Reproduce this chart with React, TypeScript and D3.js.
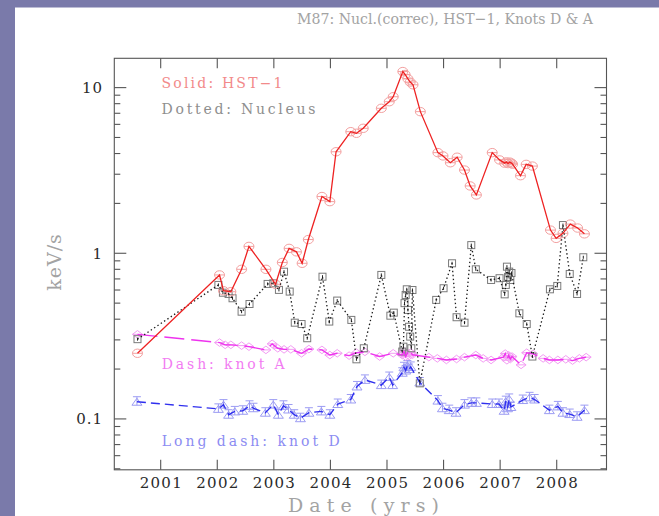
import React from "react";
import * as d3 from "d3";

// Light curves of M87: nucleus (corrected), HST-1, knot D and knot A
const hst1: [number, number][] = [
  [2000.59, 0.249], [2002.04, 0.74], [2002.11, 0.594], [2002.24, 0.586], [2002.43, 0.8],
  [2002.56, 1.1], [2002.86, 0.8], [2003.03, 0.65], [2003.15, 0.88], [2003.27, 1.07],
  [2003.4, 1.02], [2003.5, 0.87], [2003.61, 1.21], [2003.85, 2.2], [2003.99, 2.05],
  [2004.1, 4.1], [2004.36, 5.42], [2004.46, 5.3], [2004.58, 5.68], [2004.9, 7.5],
  [2005.04, 8.22], [2005.11, 8.81], [2005.28, 12.5], [2005.32, 12.0], [2005.37, 11.3],
  [2005.41, 10.8], [2005.46, 10.4], [2005.59, 7.16], [2005.9, 4.05], [2005.99, 3.87],
  [2006.12, 3.52], [2006.24, 3.8], [2006.37, 3.18], [2006.47, 2.55], [2006.58, 2.25],
  [2006.86, 4.05], [2006.99, 3.66], [2007.08, 3.5], [2007.11, 3.56], [2007.14, 3.48],
  [2007.17, 3.55], [2007.2, 3.5], [2007.22, 3.45], [2007.36, 2.94], [2007.46, 3.44],
  [2007.57, 3.36], [2007.89, 1.38], [2007.99, 1.23], [2008.11, 1.32], [2008.24, 1.5],
  [2008.37, 1.42], [2008.49, 1.31],
];

const nucleus: [number, number][] = [
  [2000.59, 0.303], [2002.02, 0.644], [2002.1, 0.578], [2002.2, 0.568], [2002.27, 0.535],
  [2002.43, 0.444], [2002.57, 0.494], [2002.89, 0.653], [2002.99, 0.659], [2003.09, 0.601],
  [2003.18, 0.774], [2003.28, 0.587], [2003.37, 0.381], [2003.49, 0.374], [2003.59, 0.307],
  [2003.86, 0.722], [2003.98, 0.387], [2004.12, 0.518], [2004.37, 0.396], [2004.46, 0.229],
  [2004.59, 0.267], [2004.9, 0.74], [2005.06, 0.42], [2005.12, 0.438], [2005.27, 0.255],
  [2005.29, 0.273], [2005.31, 0.5], [2005.33, 0.56], [2005.35, 0.606], [2005.37, 0.455],
  [2005.39, 0.36], [2005.41, 0.314], [2005.43, 0.267], [2005.45, 0.6], [2005.58, 0.164],
  [2005.87, 0.523], [2006.0, 0.615], [2006.15, 0.87], [2006.23, 0.411], [2006.37, 0.381],
  [2006.49, 1.12], [2006.57, 0.8], [2006.84, 0.69], [2006.99, 0.707], [2007.08, 0.565],
  [2007.1, 0.644], [2007.12, 0.83], [2007.14, 0.72], [2007.16, 0.775], [2007.18, 0.69],
  [2007.2, 0.76], [2007.34, 0.434], [2007.47, 0.374], [2007.57, 0.238], [2007.88, 0.606],
  [2008.01, 0.635], [2008.11, 1.48], [2008.23, 0.75], [2008.36, 0.568], [2008.47, 0.946],
];

const knotA: [number, number][] = [
  [2000.59, 0.324], [2002.04, 0.289], [2002.14, 0.28], [2002.24, 0.28], [2002.43, 0.277],
  [2002.56, 0.273], [2002.86, 0.261], [2002.97, 0.284], [2003.07, 0.267], [2003.18, 0.263],
  [2003.3, 0.263], [2003.49, 0.249], [2003.62, 0.264], [2003.85, 0.261], [2003.99, 0.243],
  [2004.12, 0.249], [2004.33, 0.241], [2004.46, 0.251], [2004.61, 0.254], [2004.87, 0.238],
  [2005.11, 0.249], [2005.27, 0.243], [2005.3, 0.255], [2005.33, 0.238], [2005.36, 0.25],
  [2005.39, 0.24], [2005.42, 0.252], [2005.45, 0.244], [2005.74, 0.236], [2005.89, 0.232],
  [2006.05, 0.227], [2006.23, 0.23], [2006.37, 0.236], [2006.57, 0.243], [2006.7, 0.232],
  [2006.84, 0.227], [2007.06, 0.236], [2007.09, 0.248], [2007.12, 0.226], [2007.15, 0.242],
  [2007.18, 0.23], [2007.21, 0.238], [2007.37, 0.212], [2007.47, 0.251], [2007.58, 0.247],
  [2007.76, 0.232], [2007.87, 0.227], [2008.02, 0.227], [2008.16, 0.229], [2008.28, 0.225],
  [2008.4, 0.232], [2008.52, 0.236],
];

const knotD: [number, number][] = [
  [2000.58, 0.127], [2002.02, 0.115], [2002.11, 0.122], [2002.2, 0.106], [2002.31, 0.111],
  [2002.45, 0.112], [2002.57, 0.12], [2002.64, 0.116], [2002.85, 0.109], [2002.99, 0.122],
  [2003.08, 0.106], [2003.17, 0.12], [2003.26, 0.114], [2003.36, 0.106], [2003.47, 0.101],
  [2003.62, 0.109], [2003.84, 0.111], [2003.99, 0.106], [2004.13, 0.123], [2004.36, 0.131],
  [2004.47, 0.157], [2004.61, 0.172], [2004.9, 0.16], [2005.04, 0.179], [2005.1, 0.16],
  [2005.27, 0.19], [2005.3, 0.205], [2005.33, 0.196], [2005.36, 0.21], [2005.39, 0.2],
  [2005.42, 0.206], [2005.58, 0.166], [2005.9, 0.129], [2005.98, 0.116], [2006.1, 0.113],
  [2006.22, 0.109], [2006.37, 0.122], [2006.49, 0.125], [2006.58, 0.125], [2006.86, 0.123],
  [2006.98, 0.123], [2007.07, 0.112], [2007.1, 0.128], [2007.13, 0.116], [2007.16, 0.132],
  [2007.19, 0.118], [2007.4, 0.13], [2007.52, 0.135], [2007.61, 0.131], [2007.87, 0.113],
  [2008.02, 0.119], [2008.11, 0.109], [2008.23, 0.107], [2008.36, 0.103], [2008.49, 0.113],
];

const yearTicks = [2001, 2002, 2003, 2004, 2005, 2006, 2007, 2008];
const yMajorTicks = [0.1, 1, 10];
const yMajorLabels = ["0.1", "1", "10"];

const W = 659;
const H = 516;
const plot = { left: 114.3, right: 606.5, top: 58.3, bottom: 469.8 };
const FONT = "'DejaVu Serif', serif";

const x = d3.scaleLinear().domain([2000.18, 2008.88]).range([plot.left, plot.right]);
const y = d3.scaleLog().domain([0.0493, 15.03]).range([plot.bottom, plot.top]);

const line = d3
  .line<[number, number]>()
  .x((d) => x(d[0]))
  .y((d) => y(d[1]));

const minorTicks = y
  .ticks()
  .filter((v) => !yMajorTicks.some((m) => Math.abs(m - v) < 1e-9));

function Circle({ cx, cy }: { cx: number; cy: number }) {
  return (
    <g transform={`translate(${cx},${cy})`} stroke="#f3a0a0" fill="none" strokeWidth={1}>
      <ellipse rx={5} ry={4.2} />
      <path d="M-5,0H5" />
    </g>
  );
}

function Square({ cx, cy }: { cx: number; cy: number }) {
  return (
    <g transform={`translate(${cx},${cy})`} stroke="#7a7a7a" fill="none" strokeWidth={1}>
      <rect x={-3.5} y={-3.5} width={7} height={7} />
      <path d="M0,-1.5V1.5" stroke="#222" />
    </g>
  );
}

function Diamond({ cx, cy }: { cx: number; cy: number }) {
  return (
    <g transform={`translate(${cx},${cy})`} stroke="#f39cf3" fill="none" strokeWidth={1}>
      <path d="M0,-3.8L5,0L0,3.8L-5,0Z" />
      <path d="M-5,0H5" />
    </g>
  );
}

function Triangle({ cx, cy }: { cx: number; cy: number }) {
  return (
    <g transform={`translate(${cx},${cy})`} stroke="#9c9cf3" fill="none" strokeWidth={1}>
      <path d="M-5,3.5L0,-3.5L5,3.5Z" />
      <path d="M-4,-5H4M0,-5V3.5" />
    </g>
  );
}

export default function App() {
  return (
    <svg
      width={W}
      height={H}
      viewBox={`0 0 ${W} ${H}`}
      style={{ position: "absolute", left: 0, top: 0, display: "block" }}
    >
      <rect x={0} y={0} width={W} height={H} fill="#ffffff" />
      <rect x={0} y={0} width={W} height={7.5} fill="#7a7aaa" />
      <rect x={0} y={0} width={15} height={H} fill="#7a7aaa" />

      <text
        x={297}
        y={24}
        fontFamily={FONT}
        fontSize={15}
        fill="#a3a3a3"
        textLength={296}
        lengthAdjust="spacingAndGlyphs"
      >
        M87: Nucl.(correc), HST−1, Knots D &amp; A
      </text>

      {/* frame */}
      <rect
        x={plot.left}
        y={plot.top}
        width={plot.right - plot.left}
        height={plot.bottom - plot.top}
        fill="none"
        stroke="#555"
        strokeWidth={1.1}
      />

      {/* x ticks on bottom and top */}
      {yearTicks.map((t) => (
        <g key={`xt${t}`} stroke="#555" strokeWidth={1.1}>
          <line x1={x(t)} x2={x(t)} y1={plot.bottom} y2={plot.bottom - 10} />
          <line x1={x(t)} x2={x(t)} y1={plot.top} y2={plot.top + 10} />
        </g>
      ))}
      {yearTicks.map((t) => (
        <text
          key={`xl${t}`}
          x={x(t)}
          y={488}
          textAnchor="middle"
          fontFamily={FONT}
          fontSize={15}
          fill="#2a2a2a"
          textLength={42}
          lengthAdjust="spacing"
        >
          {t}
        </text>
      ))}

      {/* y ticks on left and right */}
      {yMajorTicks.map((t) => (
        <g key={`ym${t}`} stroke="#555" strokeWidth={1.1}>
          <line x1={plot.left} x2={plot.left + 12} y1={y(t)} y2={y(t)} />
          <line x1={plot.right} x2={plot.right - 12} y1={y(t)} y2={y(t)} />
        </g>
      ))}
      {minorTicks.map((t) => (
        <g key={`yn${t}`} stroke="#555" strokeWidth={1.1}>
          <line x1={plot.left} x2={plot.left + 6} y1={y(t)} y2={y(t)} />
          <line x1={plot.right} x2={plot.right - 6} y1={y(t)} y2={y(t)} />
        </g>
      ))}
      {yMajorTicks.map((t, i) => (
        <text
          key={`yl${t}`}
          x={103}
          y={y(t) + 5.5}
          textAnchor="end"
          fontFamily={FONT}
          fontSize={15}
          fill="#2a2a2a"
          letterSpacing={1}
        >
          {yMajorLabels[i]}
        </text>
      ))}

      {/* axis titles */}
      <text
        x={363.5}
        y={511.5}
        textAnchor="middle"
        fontFamily={FONT}
        fontSize={19}
        fill="#a3a3a3"
        textLength={151}
        lengthAdjust="spacing"
      >
        Date (yrs)
      </text>
      <text
        transform={`translate(61,262) rotate(-90)`}
        textAnchor="middle"
        fontFamily={FONT}
        fontSize={19}
        fill="#a3a3a3"
        letterSpacing={1}
      >
        keV/s
      </text>

      {/* series labels */}
      <text x={161.5} y={88.3} fontFamily={FONT} fontSize={14} fill="#f28a8a" textLength={121} lengthAdjust="spacing">
        Solid: HST−1
      </text>
      <text x={161.5} y={113.5} fontFamily={FONT} fontSize={14} fill="#8e8e8e" textLength={154} lengthAdjust="spacing">
        Dotted: Nucleus
      </text>
      <text x={161.7} y={369} fontFamily={FONT} fontSize={14} fill="#f27cf2" textLength={123} lengthAdjust="spacing">
        Dash: knot A
      </text>
      <text x={161.7} y={445.5} fontFamily={FONT} fontSize={14} fill="#8c8cf2" textLength={178} lengthAdjust="spacing">
        Long dash: knot D
      </text>

      {/* markers */}
      {knotD.map((d, i) => (
        <Triangle key={`d${i}`} cx={x(d[0])} cy={y(d[1])} />
      ))}
      {knotA.map((d, i) => (
        <Diamond key={`a${i}`} cx={x(d[0])} cy={y(d[1])} />
      ))}
      {nucleus.map((d, i) => (
        <Square key={`n${i}`} cx={x(d[0])} cy={y(d[1])} />
      ))}
      {hst1.map((d, i) => (
        <Circle key={`h${i}`} cx={x(d[0])} cy={y(d[1])} />
      ))}

      {/* connecting lines */}
      <path d={line(knotD) ?? ""} fill="none" stroke="#2f2fee" strokeWidth={1.4} strokeDasharray="9 5" />
      <path d={line(knotA) ?? ""} fill="none" stroke="#ee33ee" strokeWidth={1.4} strokeDasharray="20 7" />
      <path d={line(nucleus) ?? ""} fill="none" stroke="#1a1a1a" strokeWidth={1.3} strokeDasharray="1.4 2.6" />
      <path d={line(hst1) ?? ""} fill="none" stroke="#ee2222" strokeWidth={1.3} />
    </svg>
  );
}
